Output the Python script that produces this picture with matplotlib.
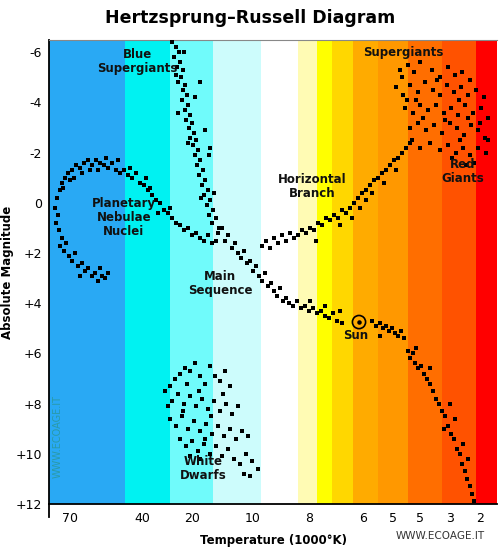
import matplotlib
matplotlib.use("Agg")
import matplotlib.pyplot as plt

# Spectral colour bands (left edge, right edge, colour) in temperature-axis position units
band_edges = [49, 125, 170, 213, 261, 298, 317, 332, 353, 378, 408, 442, 476, 497]
band_colors = ["#29a9f4", "#00f2f2", "#70fbfb", "#cdfcfc", "#ffffff", "#fffbb4",
               "#ffff00", "#ffd700", "#ffab00", "#ff9800", "#ff6e00", "#ff5200", "#ff0000"]

xtick_pos = [70, 142, 192, 253, 309, 363, 393, 420, 450, 480]
xtick_labels = ["70", "40", "20", "10", "8", "6", "5", "5", "3", "2"]
ytick_vals = [-6, -4, -2, 0, 2, 4, 6, 8, 10, 12]
ytick_labels = ["-6", "-4", "-2", "0", "+2", "+4", "+6", "+8", "+10", "+12"]

blue_supergiants = [(172,-6.4),(176,-6.2),(179,-6.0),(174,-5.8),(180,-5.6),(177,-5.4),(183,-5.3),(181,-5.0),
    (178,-4.8),(185,-4.7),(183,-4.5),(187,-4.3),(182,-4.1),(188,-3.9),(185,-3.7),(190,-3.5),(186,-3.3),
    (192,-3.2),(189,-3.0),(194,-2.8),(190,-2.6),(196,-2.5),(193,-2.3),(198,-2.1),(195,-1.9),(200,-1.7),
    (197,-1.5),(203,-1.3),(199,-1.1),(205,-0.9),(202,-0.7),(208,-0.5),(204,-0.3),(210,-0.1),(207,0.1),
    (213,0.3),(209,0.5),(216,0.6),(212,0.8),(219,1.0),(200,-4.8),(184,-6.0),(195,-4.2),(209,-1.9),
    (178,-3.6),(205,-2.9),(210,-2.2),(176,-5.1),(188,-2.4),(201,-0.2),(214,-0.4)]

nebulae_arc = [(55,0.2),(57,-0.2),(60,-0.5),(58,0.5),(62,-0.8),(65,-1.0),(63,-0.6),(68,-1.2),(72,-1.3),
    (70,-0.9),(76,-1.5),(80,-1.4),(84,-1.6),(82,-1.2),(88,-1.7),(92,-1.5),(96,-1.7),(100,-1.6),(98,-1.3),
    (104,-1.5),(108,-1.4),(112,-1.6),(116,-1.3),(120,-1.2),(124,-1.3),(128,-1.1),(132,-1.0),(136,-1.2),
    (140,-0.8),(144,-0.7),(148,-0.5),(152,-0.3),(150,-0.6),(156,-0.1),(160,0.0),(164,0.3),(168,0.4),
    (172,0.6),(176,0.8),(180,0.9),(184,1.1),(188,1.0),(192,1.3),(196,1.2),(200,1.4),(204,1.5),(208,1.3),
    (212,1.6),(216,1.5),(146,-1.0),(158,0.4),(170,0.2),(130,-1.4),(118,-1.7),(74,-1.0),(90,-1.3),(106,-1.8)]

nebulae_tail = [(56,0.8),(59,1.1),(62,1.4),(60,1.7),(64,1.9),(66,1.6),(69,2.1),(72,2.3),(75,2.0),(78,2.5),
    (82,2.4),(85,2.7),(88,2.6),(92,2.9),(95,2.8),(98,3.1),(102,2.9),(105,3.0),(100,2.6),(80,2.9),(108,2.8)]

main_sequence = [(218,1.2),(222,1.0),(225,1.5),(228,1.3),(232,1.8),(235,1.6),(238,2.0),(241,2.2),(244,1.9),
    (247,2.4),(250,2.3),(253,2.7),(256,2.5),(259,2.9),(262,3.1),(265,2.8),(268,3.3),(271,3.2),(274,3.5),
    (277,3.7),(280,3.4),(283,3.9),(286,3.8),(289,4.0),(293,4.1),(297,3.9),(301,4.2),(305,4.1),(309,4.3),
    (313,4.2),(317,4.4),(321,4.3),(325,4.5),(329,4.6),(333,4.4),(337,4.7),(342,4.8),(372,4.7),(376,4.9),
    (380,4.8),(383,5.0),(386,4.9),(389,5.1),(392,5.0),(395,5.2),(398,5.3),(401,5.1),(404,5.4),(380,5.3),
    (408,5.9),(410,6.2),(413,6.0),(415,6.4),(418,6.6),(421,6.5),(424,6.8),(427,7.0),(430,7.2),(433,7.5),
    (436,7.8),(439,8.0),(442,8.3),(445,8.5),(448,8.9),(451,9.2),(454,9.4),(457,9.8),(460,10.0),(462,10.4),
    (465,10.7),(467,11.0),(470,11.3),(472,11.6),(474,11.9),(455,8.6),(450,8.0),(463,9.6),(468,10.2),
    (444,9.0),(430,6.6),(416,5.8),(325,4.1),(340,4.3),(310,3.9)]

giant_branch = [(262,1.7),(266,1.5),(270,1.8),(274,1.4),(278,1.6),(282,1.3),(286,1.5),(290,1.2),(294,1.4),
    (298,1.3),(302,1.1),(306,1.2),(310,1.0),(314,1.1),(318,0.8),(322,0.9),(326,0.6),(330,0.7),(334,0.5),
    (338,0.6),(342,0.3),(346,0.4),(350,0.2),(354,0.0),(358,-0.2),(362,-0.4),(366,-0.5),(370,-0.7),
    (374,-0.9),(378,-1.0),(382,-1.2),(386,-1.3),(390,-1.5),(394,-1.7),(398,-1.8),(402,-2.0),(406,-2.2),
    (410,-2.4),(372,-0.4),(384,-0.8),(396,-1.3),(360,0.2),(340,0.9),(316,1.5),(352,0.6),(366,-0.1)]

red_giants = [(400,-5.3),(408,-5.5),(414,-5.2),(420,-5.6),(432,-5.3),(440,-5.0),(448,-5.4),(455,-5.1),
    (462,-5.2),(470,-4.9),(396,-4.6),(403,-4.3),(410,-4.7),(418,-4.4),(425,-4.8),(433,-4.5),(440,-4.3),
    (447,-4.7),(454,-4.4),(461,-4.6),(468,-4.3),(476,-4.5),(484,-4.2),(405,-3.8),(413,-3.6),(420,-3.9),
    (428,-3.7),(436,-3.9),(444,-3.6),(451,-3.8),(458,-3.5),(465,-3.9),(473,-3.6),(481,-3.8),(488,-3.4),
    (410,-3.0),(418,-3.2),(426,-2.9),(434,-3.1),(442,-2.8),(450,-3.2),(457,-3.0),(464,-2.7),(471,-3.1),
    (478,-2.9),(485,-2.6),(412,-2.5),(420,-2.2),(430,-2.4),(440,-2.1),(448,-2.3),(456,-2.0),(463,-2.2),
    (470,-1.9),(478,-2.2),(486,-2.0),(474,-1.6),(452,-1.8),(466,-1.5),(402,-5.0),(416,-4.1),(437,-4.9),
    (459,-4.1),(445,-3.3),(468,-3.4),(480,-3.2),(423,-3.4),(407,-4.1),(460,-2.5),(488,-2.5)]

white_dwarfs = [(165,7.5),(170,7.3),(175,7.0),(180,6.8),(185,6.6),(190,6.7),(195,6.4),(200,6.9),(205,7.2),
    (210,6.5),(215,6.9),(220,7.1),(225,6.7),(230,7.3),(172,7.9),(178,7.6),(184,8.0),(190,7.7),(196,8.1),
    (202,7.8),(208,8.2),(214,7.9),(220,8.3),(226,8.0),(232,8.4),(238,8.1),(170,8.6),(176,8.9),(182,8.5),
    (188,9.0),(194,8.7),(200,9.1),(206,8.8),(212,9.2),(218,8.9),(224,9.3),(230,9.0),(236,9.4),(242,9.1),
    (248,9.3),(180,9.4),(186,9.7),(192,9.5),(198,9.9),(204,9.6),(210,10.0),(216,9.7),(222,10.1),(228,9.8),
    (234,10.2),(240,10.4),(246,10.0),(252,10.3),(258,10.6),(244,10.8),(250,10.9),(200,10.2),(190,10.1),
    (168,8.1),(187,7.2),(199,7.5),(211,8.5),(223,7.6),(205,9.4),(183,8.3)]

sun = (359, 4.75)

labels = [("Blue\nSupergiants", 137, -5.65), ("Supergiants", 403, -6.0), ("Horizontal\nBranch", 312, -0.65),
          ("Red\nGiants", 463, -1.25), ("Planetary\nNebulae\nNuclei", 124, 0.6), ("Main\nSequence", 220, 3.2),
          ("Sun", 356, 5.3), ("White\nDwarfs", 203, 10.6)]

fig = plt.figure(figsize=(5, 5.51), dpi=100)
ax = fig.add_axes([0.098, 0.0853, 0.896, 0.8421])
for i, c in enumerate(band_colors):
    ax.axvspan(band_edges[i], band_edges[i + 1], color=c, lw=0, zorder=0)

for grp in [blue_supergiants, nebulae_arc, nebulae_tail, main_sequence, giant_branch, red_giants, white_dwarfs]:
    xs = [p[0] for p in grp]
    ys = [p[1] for p in grp]
    ax.scatter(xs, ys, s=9, marker="s", color="black", lw=0, zorder=3)

ax.scatter([sun[0]], [sun[1]], s=90, facecolor="none", edgecolor="black", lw=1.2, zorder=4)
ax.scatter([sun[0]], [sun[1]], s=5, color="black", zorder=4)

for t, x, y in labels:
    ax.text(x, y, t, ha="center", va="center", fontsize=8.5, fontweight="bold", color="#111111",
            linespacing=1.1, zorder=5)

ax.text(58, 9.3, "WWW.ECOAGE.IT", rotation=90, ha="center", va="center", fontsize=7,
        color="#2a9aa8", zorder=2)

ax.set_xlim(49, 497)
ax.set_ylim(12, -6.49)
ax.set_xticks(xtick_pos)
ax.set_xticklabels(xtick_labels, fontsize=9)
ax.set_yticks(ytick_vals)
ax.set_yticklabels(ytick_labels, fontsize=9)
ax.tick_params(axis="both", length=0, pad=5)
ax.tick_params(axis="x", pad=6)
ax.spines["right"].set_visible(False)
ax.spines["top"].set_color("#888888")
ax.spines["left"].set_linewidth(1.3)
ax.spines["bottom"].set_linewidth(1.3)
ax.plot([0, 0], [0, -0.028], transform=ax.transAxes, color="black", lw=1.3, clip_on=False)

ax.set_xlabel("Temperature (1000°K)", fontsize=8.5, fontweight="bold", labelpad=6)
ax.set_ylabel("Absolute Magnitude", fontsize=8.5, fontweight="bold", labelpad=1)
fig.text(0.5, 0.968, "Hertzsprung–Russell Diagram", ha="center", va="center", fontsize=12.5, fontweight="bold")
fig.text(0.88, 0.028, "WWW.ECOAGE.IT", ha="center", va="center", fontsize=7.5, color="#333333")

fig.savefig("out.png", dpi=100)
